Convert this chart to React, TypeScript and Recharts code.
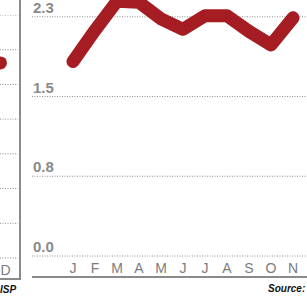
import React from 'react';
import { LineChart, Line, XAxis, YAxis, CartesianGrid } from 'recharts';

// right panel: monthly values
const months = ['J', 'F', 'M', 'A', 'M', 'J', 'J', 'A', 'S', 'O', 'N'];
const values = [1.87, 2.17, 2.45, 2.44, 2.28, 2.18, 2.31, 2.31, 2.16, 2.03, 2.29];
const yTicks = [0, 0.767, 1.533, 2.3];
const yTickLabels = ['0.0', '0.8', '1.5', '2.3'];

// left panel (cut off): only its December point is visible
const leftMonths = ['N', 'D'];
const leftValues = [null, 5.62];
const leftShownTicks = ['D'];
const leftTicks = [0, 1, 2, 3, 4, 5, 6, 7];

const RED = '#a51c22';
const GRID = '#8c8c8c';
const AXIS = '#8a8a8a';
const FONT = '"Liberation Sans", Arial, sans-serif';

const data = months.map((m, i) => ({ m, v: values[i] }));
const leftData = leftMonths.map((m, i) => ({ m, v: leftValues[i] }));

const MonthTick = (props: any) => {
  const { x, payload } = props;
  return (
    <text x={x} y={277} textAnchor="middle" fontFamily={FONT} fontSize={14} fill="#7c7c7c">
      {payload.value}
    </text>
  );
};

const ValueTick = (props: any) => {
  const { y, payload } = props;
  const idx = yTicks.indexOf(payload.value);
  return (
    <text x={2} y={y - 4} textAnchor="start" fontFamily={FONT} fontSize={15} fontWeight={700} fill="#8a8a8a">
      {yTickLabels[idx]}
    </text>
  );
};

const LeftMonthTick = (props: any) => {
  const { x, payload } = props;
  if (!leftShownTicks.includes(payload.value)) return null;
  return (
    <text x={x + 5} y={260} textAnchor="middle" fontFamily={FONT} fontSize={14} fill="#7c7c7c">
      {payload.value}
    </text>
  );
};

const EndDot = (props: any) => {
  const { cx, cy, value } = props;
  if (value == null || cx == null || cy == null) return null;
  return <circle cx={cx} cy={cy} r={6.5} fill={RED} />;
};

export default function App() {
  return (
    <div
      style={{
        position: 'fixed',
        left: 0,
        top: 0,
        width: 307,
        height: 303,
        overflow: 'hidden',
        background: '#fff',
      }}
    >
      {/* left panel */}
      <div style={{ position: 'absolute', left: -60, top: 15 }}>
        <LineChart width={78} height={273} data={leftData} margin={{ top: 0, right: 0, bottom: 0, left: 0 }}>
          <CartesianGrid vertical={false} stroke={GRID} strokeDasharray="1 1.5" />
          <XAxis
            dataKey="m"
            axisLine={false}
            tickLine={false}
            height={30}
            interval={0}
            padding={{ left: 0, right: 17.5 }}
            tick={<LeftMonthTick />}
          />
          <YAxis hide domain={[0, 7]} ticks={leftTicks} />
          <Line
            dataKey="v"
            stroke={RED}
            strokeWidth={12}
            dot={<EndDot />}
            isAnimationActive={false}
          />
        </LineChart>
      </div>
      <div style={{ position: 'absolute', left: 19, top: 0, width: 2, height: 279, background: AXIS }} />
      <div style={{ position: 'absolute', left: 0, top: 278, width: 21, height: 2, background: AXIS }} />
      <div
        style={{
          position: 'absolute',
          left: 0,
          top: 284,
          fontFamily: FONT,
          fontSize: 10,
          fontWeight: 700,
          fontStyle: 'italic',
          color: '#111',
        }}
      >
        ISP
      </div>

      {/* right panel */}
      <div style={{ position: 'absolute', left: 31, top: -4 }}>
        <LineChart width={292} height={290} data={data} margin={{ top: 0, right: 0, bottom: 0, left: 0 }}>
          <CartesianGrid vertical={false} stroke={GRID} strokeDasharray="1 1.5" />
          <XAxis
            dataKey="m"
            axisLine={false}
            tickLine={false}
            height={30}
            interval={0}
            padding={{ left: 41, right: 30 }}
            tick={<MonthTick />}
          />
          <YAxis
            width={1}
            domain={[0, 2.5]}
            ticks={yTicks}
            axisLine={false}
            tickLine={false}
            tick={<ValueTick />}
          />
          <Line
            dataKey="v"
            stroke={RED}
            strokeWidth={13}
            strokeLinecap="round"
            strokeLinejoin="round"
            dot={false}
            isAnimationActive={false}
          />
        </LineChart>
      </div>
      <div style={{ position: 'absolute', left: 32, top: 276, width: 275, height: 2, background: AXIS }} />
      <div
        style={{
          position: 'absolute',
          left: 268,
          top: 283,
          fontFamily: FONT,
          fontSize: 10,
          fontWeight: 700,
          fontStyle: 'italic',
          color: '#111',
          whiteSpace: 'nowrap',
        }}
      >
        Source:
      </div>
    </div>
  );
}
